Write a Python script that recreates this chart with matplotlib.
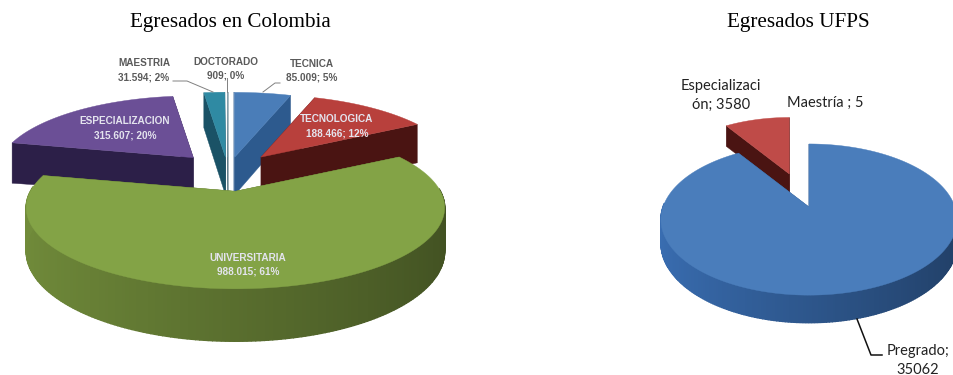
#!/usr/bin/env python3
import numpy as np
import matplotlib

matplotlib.use("Agg")
import matplotlib.pyplot as plt
from matplotlib.patches import Polygon

# data
col_names = ["TECNICA", "TECNOLOGICA", "UNIVERSITARIA", "ESPECIALIZACION", "MAESTRIA", "DOCTORADO"]
col_values = [85009, 188466, 988015, 315607, 31594, 909]
col_text = ["85.009; 5%", "188.466; 12%", "988.015; 61%", "315.607; 20%", "31.594; 2%", "909; 0%"]

ufps_names = ["Pregrado", "Especialización", "Maestría"]
ufps_values = [35062, 3580, 5]

# drawing style per slice: top colour, side colour, explosion, radius factor
col_top = ["#4a7db8", "#b8403c", "#83a346", "#6b4f96", "#2f8aa3", "#8fa8b4"]
col_side = ["#2d5a8e", "#4a1412", "#55692c", "#2c1f48", "#1a5266", "#4a6a78"]
col_explode = [0.19, 0.25, 0.25, 0.25, 0.19, 0.19]
col_scale = [1.0, 0.95, 1.0, 0.94, 1.0, 1.0]
ufps_top = ["#4a7dbb", "#bf4b48", "#bf4b48"]
ufps_side = ["#2b5285", "#4a1412", "#4a1412"]
ufps_explode = [0.0, 0.47, 0.47]
ufps_scale = [1.0, 0.88, 0.88]


def project(theta, r, pie):
    u, v = r * np.sin(theta), -r * np.cos(theta)
    w = 1 / (1 - pie["p"] * v)
    return pie["rx"] * u * w, pie["ry"] * v * w, pie["depth"] * w


def shade(color, k):
    c = np.array(matplotlib.colors.to_rgb(color))
    return tuple(np.clip(c * k, 0, 1))


def draw_pie(ax, values, tops, sides, explode, scale, order, pie):
    fracs = np.asarray(values, dtype=float) / np.sum(values)
    edges = np.concatenate([[0], np.cumsum(fracs)]) * 2 * np.pi
    for i in order:
        if fracs[i] < 0.0002:
            continue  # too thin to show in the original
        t0, t1 = edges[i], edges[i + 1]
        mid = (t0 + t1) / 2
        ax0 = pie["cx"] + explode[i] * pie["rx"] * np.sin(mid)
        ay0 = pie["cy"] - explode[i] * pie["ry"] * np.cos(mid)
        th = np.linspace(t0, t1, max(3, int((t1 - t0) * 60)))
        dx, dy, dz = project(th, scale[i], pie)
        xs, ys = ax0 + dx, ay0 + dy
        d0 = pie["depth"] * 0.9

        # radial cut faces, then the outer rim, then the top
        for j in (0, -1):
            ax.add_patch(Polygon([(ax0, ay0), (xs[j], ys[j]), (xs[j], ys[j] + dz[j]), (ax0, ay0 + d0)],
                                 fc=sides[i], ec=sides[i], lw=0.3, zorder=2))
        for j in range(len(th) - 1):
            if np.cos(th[j]) > 0.05:
                continue
            c = shade(sides[i], 1.05 - 0.28 * np.sin(th[j]))
            ax.add_patch(Polygon([(xs[j], ys[j]), (xs[j + 1], ys[j + 1]),
                                  (xs[j + 1], ys[j + 1] + dz[j + 1]), (xs[j], ys[j] + dz[j])],
                                 fc=c, ec=c, lw=1.0, zorder=2))
        ax.add_patch(Polygon(np.column_stack([np.r_[ax0, xs], np.r_[ay0, ys]]),
                             fc=tops[i], ec=tops[i], lw=0.3, zorder=2))


fig = plt.figure(figsize=(9.54, 3.75), dpi=100)
ax = fig.add_axes([0, 0, 1, 1])
ax.set_xlim(0, 954)
ax.set_ylim(375, 0)
ax.axis("off")

left_pie = {"cx": 228, "cy": 172, "rx": 205, "ry": 78, "p": 0.2, "depth": 42}
right_pie = {"cx": 809, "cy": 207, "rx": 146, "ry": 73.5, "p": 0.166, "depth": 23}
draw_pie(ax, col_values, col_top, col_side, col_explode, col_scale, [5, 4, 3, 0, 1, 2], left_pie)
draw_pie(ax, ufps_values, ufps_top, ufps_side, ufps_explode, ufps_scale, [1, 2, 0], right_pie)

ax.text(230, 22, "Egresados en Colombia", family="Liberation Serif", fontsize=15.2, ha="center", va="center", color="black")
ax.text(798, 22, "Egresados UFPS", family="Liberation Serif", fontsize=15.2, ha="center", va="center", color="black")

# left pie labels
dark = dict(fontsize=7.2, fontweight="bold", color="#5a5a5a", ha="center", va="center", linespacing=1.5, family="Liberation Sans")
light = dict(fontsize=7.2, fontweight="bold", color="#e4e4ee", ha="center", va="center", linespacing=1.5, family="Liberation Sans", zorder=5)
ax.text(144, 70, f"{col_names[4]}\n{col_text[4]}", **dark)
ax.text(226, 69, f"{col_names[5]}\n{col_text[5]}", **dark)
ax.text(312, 71, f"{col_names[0]}\n{col_text[0]}", **dark)
ax.text(125, 128, f"{col_names[3]}\n{col_text[3]}", **light)
ax.text(337, 126, f"{col_names[1]}\n{col_text[1]}", **light)
ax.text(248, 265, f"{col_names[2]}\n{col_text[2]}", **light)
ax.plot([173, 187, 213], [81, 81, 92], color="#808080", lw=0.7, zorder=3)
ax.plot([226.7, 226.7], [78, 92], color="#808080", lw=0.7, zorder=3)
ax.plot([280, 275, 263], [83, 83, 92], color="#808080", lw=0.7, zorder=3)

# right pie labels
lab = dict(family="Lato", fontsize=10.5, color="#222222", va="center", ha="center", zorder=5)
ax.text(721, 95.5, "Especializaci\n" + f"ón; {ufps_values[1]}", linespacing=1.44, **lab)
ax.text(825, 103, f"{ufps_names[2]} ; {ufps_values[2]}", **lab)
ax.text(918, 360.5, f"{ufps_names[0]};\n{ufps_values[0]}", linespacing=1.44, **lab)
ax.plot([857, 871, 882], [319, 355, 355], color="#111111", lw=1.1, zorder=4)

fig.savefig("out.png", dpi=100)
